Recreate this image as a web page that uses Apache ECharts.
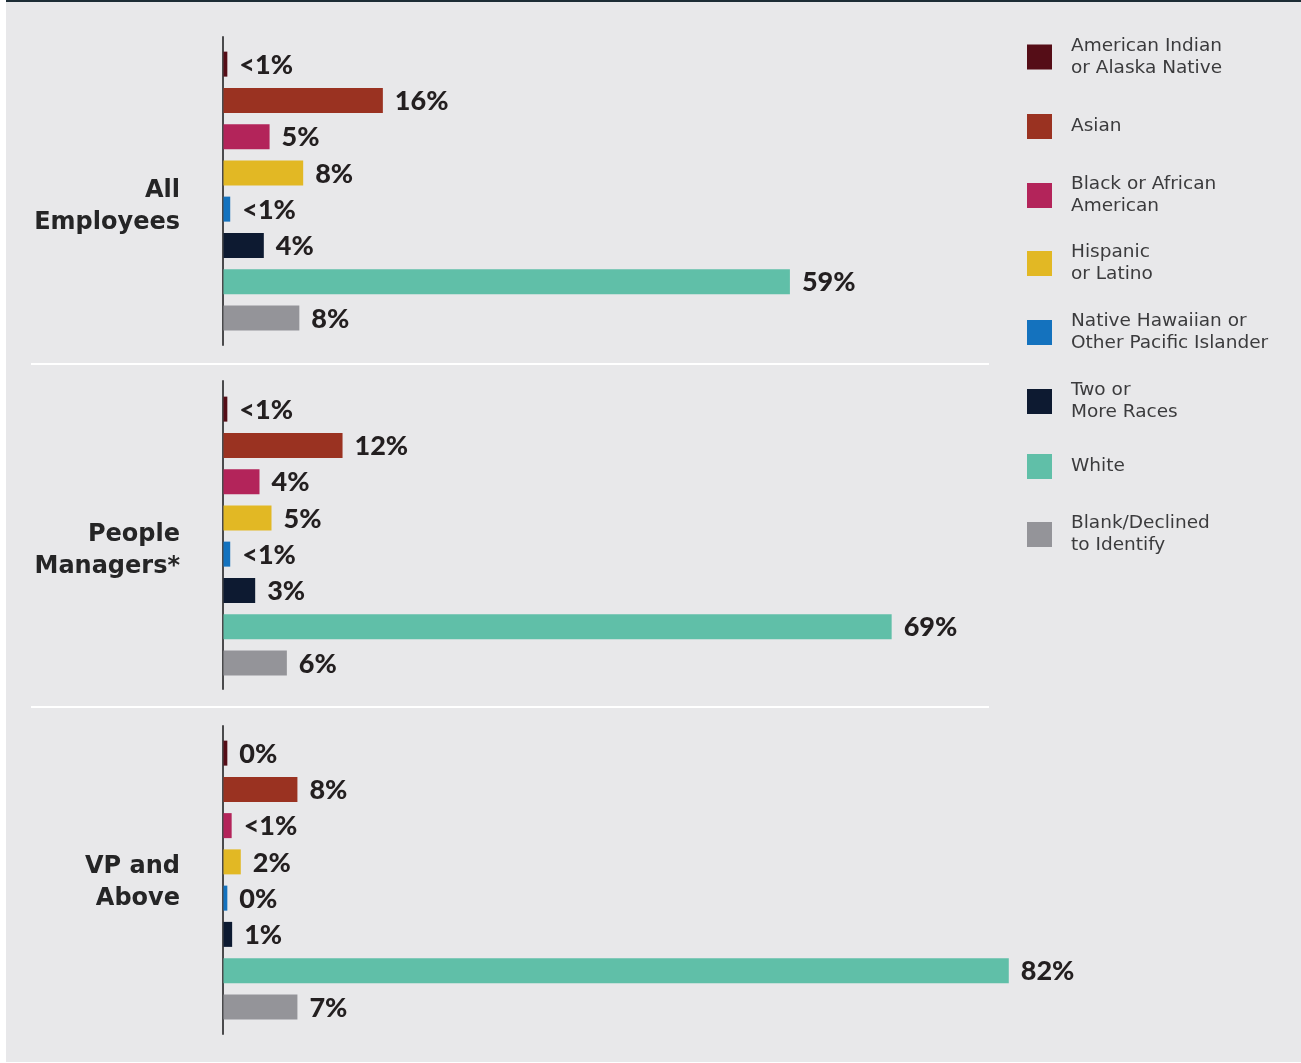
<!DOCTYPE html>
<html>
<head>
<meta charset="utf-8">
<script src="https://cdn.jsdelivr.net/npm/echarts@6/dist/echarts.min.js"></script>
<style>
	html, body { margin: 0; padding: 0; background: #ffffff; }
	#bg { position: absolute; left: 6px; top: 0; width: 1295px; height: 1062px; background: #e8e8ea; border-top: 2px solid #1c2c35; box-sizing: border-box; }
	#chart { position: absolute; left: 0; top: 0; width: 1301px; height: 1063px; }
</style>
</head>
<body>
<div id="bg"></div>
<div id="chart"></div>
<script>
	// race / ethnicity categories (legend order = bar order)
	var categories = ['American Indian\nor Alaska Native', 'Asian', 'Black or African\nAmerican', 'Hispanic\nor Latino',
		'Native Hawaiian or\nOther Pacific Islander', 'Two or\nMore Races', 'White', 'Blank/Declined\nto Identify'];
	var colors = ['#550d17', '#9a3221', '#b3245a', '#e2b824', '#1472be', '#0d1a31', '#60bfa8', '#949499'];

	var groups = ['All\nEmployees', 'People\nManagers*', 'VP and\nAbove'];

	// bar lengths (percent)
	var allEmployees = [0.4, 16.6, 4.8, 8.3, 0.7, 4.2, 59, 7.9];
	var peopleManagers = [0.4, 12.4, 3.75, 5.0, 0.7, 3.3, 69.6, 6.6];
	var vpAndAbove = [0.4, 7.7, 0.85, 1.8, 0.4, 0.9, 81.8, 7.7];

	// printed labels
	var allEmployeesLabels = ['<1%', '16%', '5%', '8%', '<1%', '4%', '59%', '8%'];
	var peopleManagersLabels = ['<1%', '12%', '4%', '5%', '<1%', '3%', '69%', '6%'];
	var vpAndAboveLabels = ['0%', '8%', '<1%', '2%', '0%', '1%', '82%', '7%'];

	var panelValues = [allEmployees, peopleManagers, vpAndAbove];
	var panelLabels = [allEmployeesLabels, peopleManagersLabels, vpAndAboveLabels];

	var lineTops = [37, 381, 726];
	var barTops = [46, 391, 735];
	var groupCenters = [207, 551, 883];
	var legendCenters = [57, 126.5, 195.5, 263.5, 332.5, 401.5, 466.5, 534.5];

	var labelFont = 'Lato';
	var textFont = '"DejaVu Sans"';

	var grid = [], xAxis = [], yAxis = [], series = [], graphic = [], legend = [];

	for (var p = 0; p < 3; p++) {
		// grid holding only the vertical axis line
		grid.push({ left: 222.5, top: lineTops[p], width: 960, height: 308 });
		xAxis.push({ gridIndex: 2 * p, type: 'value', show: false, min: 0, max: 100 });
		yAxis.push({
			gridIndex: 2 * p, type: 'category', data: [''],
			axisLine: { show: true, lineStyle: { color: '#4a4a4c', width: 2 } },
			axisTick: { show: false }, axisLabel: { show: false }
		});
		// grid holding the bars
		grid.push({ left: 223.5, top: barTops[p], width: 960, height: 290 });
		xAxis.push({ gridIndex: 2 * p + 1, type: 'value', show: false, min: 0, max: 100 });
		yAxis.push({ gridIndex: 2 * p + 1, type: 'category', data: categories, inverse: true, show: false });

		for (var i = 0; i < categories.length; i++) {
			var d = [];
			for (var j = 0; j < categories.length; j++) {
				d.push(j === i ? panelValues[p][j] : '-');
			}
			(function(labs) {
				series.push({
					name: categories[i],
					type: 'bar',
					xAxisIndex: 2 * p + 1,
					yAxisIndex: 2 * p + 1,
					stack: 'panel' + p,
					barWidth: 25,
					silent: true,
					itemStyle: { color: colors[i] },
					label: {
						show: true,
						position: 'right',
						distance: 12,
						offset: [0, 1],
						formatter: function(params) { return labs[params.dataIndex]; },
						fontFamily: labelFont,
						fontWeight: 900,
						fontSize: 27,
						color: '#231f20'
					},
					data: d
				});
			})(panelLabels[p]);
		}

		graphic.push({
			type: 'text',
			x: 180,
			y: groupCenters[p],
			style: {
				text: groups[p],
				align: 'right',
				verticalAlign: 'middle',
				font: 'bold 24px "DejaVu Sans"',
				lineHeight: 32,
				fill: '#252526'
			}
		});
	}

	// white separators between panels
	[364, 707].forEach(function(y) {
		graphic.push({
			type: 'line',
			shape: { x1: 31, y1: y, x2: 989, y2: y },
			style: { stroke: '#ffffff', lineWidth: 2 }
		});
	});

	for (var k = 0; k < categories.length; k++) {
		var lines = categories[k].split('\n').length;
		legend.push({
			data: [categories[k]],
			orient: 'vertical',
			left: 1027,
			top: legendCenters[k] - Math.max(12.5, lines * 11),
			padding: 0,
			icon: 'rect',
			itemWidth: 25,
			itemHeight: 25,
			selectedMode: false,
			textStyle: {
				fontFamily: textFont,
				fontSize: 18.5,
				lineHeight: 22,
				color: '#3b3b3d',
				padding: [0, 0, 0, 14]
			}
		});
	}

	var myChart = echarts.init(document.getElementById('chart'));
	myChart.setOption({
		animation: false,
		grid: grid,
		xAxis: xAxis,
		yAxis: yAxis,
		legend: legend,
		graphic: graphic,
		series: series
	});
</script>
</body>
</html>
